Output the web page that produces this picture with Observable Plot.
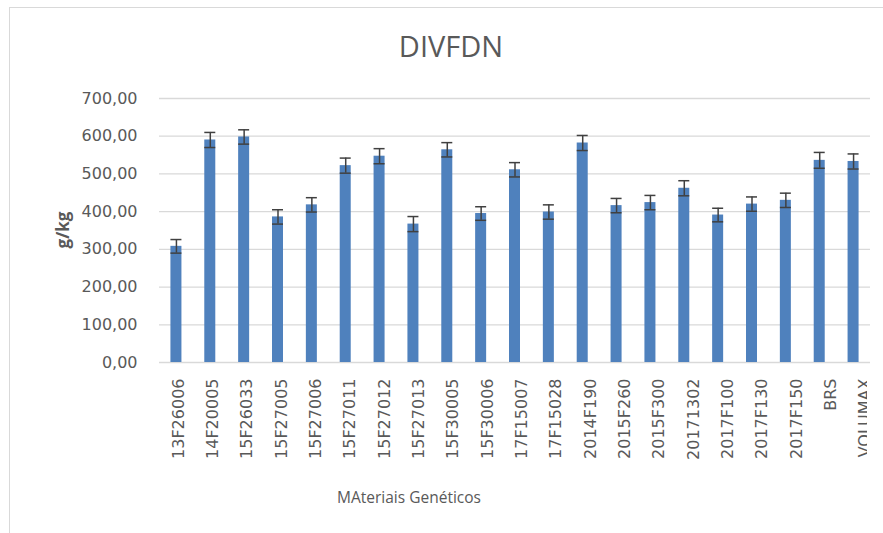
<!DOCTYPE html>
<html>
<head>
<meta charset="utf-8">
<script src="https://cdn.jsdelivr.net/npm/d3@7"></script>
<script src="https://cdn.jsdelivr.net/npm/@observablehq/plot@0.6"></script>
<style>
  html, body { margin: 0; padding: 0; background: #fff; }
  #wrap { position: relative; width: 883px; height: 533px; overflow: hidden; }
  #frame { position: absolute; left: 9px; top: 7px; width: 900px; height: 540px;
           border-left: 1.5px solid #d9d9d9; border-top: 1.5px solid #d9d9d9; box-sizing: border-box; }
  #title { position: absolute; left: 0; width: 902px; top: 26px; text-align: center;
           font-family: "Open Sans", sans-serif; font-size: 29px; color: #595959; line-height: 40px; }
  #ylab { position: absolute; left: 62px; top: 230px; transform: translate(-50%, -50%) rotate(-90deg);
          font-family: "Open Sans", sans-serif; font-weight: bold; font-size: 17px; color: #595959; white-space: nowrap; }
  #xlab { position: absolute; left: 409px; top: 497px; transform: translate(-50%, -50%);
          font-family: "Open Sans", sans-serif; font-size: 15.5px; color: #595959; white-space: nowrap; }
  #chart { position: absolute; left: 0; top: 0; }
  #labels { position: absolute; left: 0; top: 0; width: 867px; height: 533px; overflow: hidden; }
  #wrap svg { max-width: none !important; width: 883px !important; height: 533px !important; }
</style>
</head>
<body>
<div id="wrap">
  <div id="frame"></div>
  <div id="chart"></div>
  <div id="labels"></div>
  <div id="title">DIVFDN</div>
  <div id="ylab">g/kg</div>
  <div id="xlab">MAteriais Genéticos</div>
</div>
<script>
const categories = ["13F26006","14F20005","15F26033","15F27005","15F27006","15F27011","15F27012","15F27013","15F30005","15F30006","17F15007","17F15028","2014F190","2015F260","2015F300","20171302","2017F100","2017F130","2017F150","BRS","VOLUMAX"];
const values = [308,590,598,386,418,522,547,367,564,395,511,399,582,416,424,462,391,420,430,536,533];
const errors = [18,20,19,19,19,20,20,20,19,18,19,19,20,19,19,20,18,19,19,21,20];
const yTicks = [0,100,200,300,400,500,600,700];

const data = categories.map((c, i) => ({cat: c, v: values[i], lo: values[i] - errors[i], hi: values[i] + errors[i]}));
const fmt = d => d3.format(".2f")(d).replace(".", ",");
const textStyle = {fontFamily: "DejaVu Sans", fontSize: "16px", color: "#595959", background: "transparent", overflow: "visible"};

const chart = Plot.plot({
  width: 883,
  height: 533,
  marginLeft: 159,
  marginRight: 13,
  marginTop: 98,
  marginBottom: 171,
  style: textStyle,
  x: {domain: categories, paddingInner: 0.675, paddingOuter: 0.3375, round: false, axis: null},
  y: {domain: [0, 700], axis: null},
  marks: [
    Plot.ruleY(yTicks, {stroke: "#d9d9d9", strokeWidth: 1.3}),
    Plot.barY(data, {x: "cat", y: "v", fill: "#4f81bd"}),
    Plot.ruleX(data, {x: "cat", y1: "lo", y2: "hi", stroke: "#404040", strokeWidth: 1.5}),
    Plot.tickY(data, {x: "cat", y: "lo", stroke: "#404040", strokeWidth: 1.5}),
    Plot.tickY(data, {x: "cat", y: "hi", stroke: "#404040", strokeWidth: 1.5}),
    Plot.axisY({ticks: yTicks, tickFormat: fmt, tickSize: 0, tickPadding: 22, label: null, fill: "#595959"})
  ]
});
document.getElementById("chart").appendChild(chart);

// category labels: spaced slightly wider than the bars, as in the reference
const labelAxis = Plot.plot({
  width: 883,
  height: 533,
  marginLeft: 160,
  marginRight: 2,
  marginTop: 98,
  marginBottom: 171,
  style: textStyle,
  x: {domain: categories, paddingInner: 0.675, paddingOuter: 0.3375, round: false},
  marks: [
    Plot.axisX({tickRotate: -90, tickSize: 0, tickPadding: 16, label: null, fill: "#595959", dx: 1})
  ]
});
document.getElementById("labels").appendChild(labelAxis);
</script>
</body>
</html>
